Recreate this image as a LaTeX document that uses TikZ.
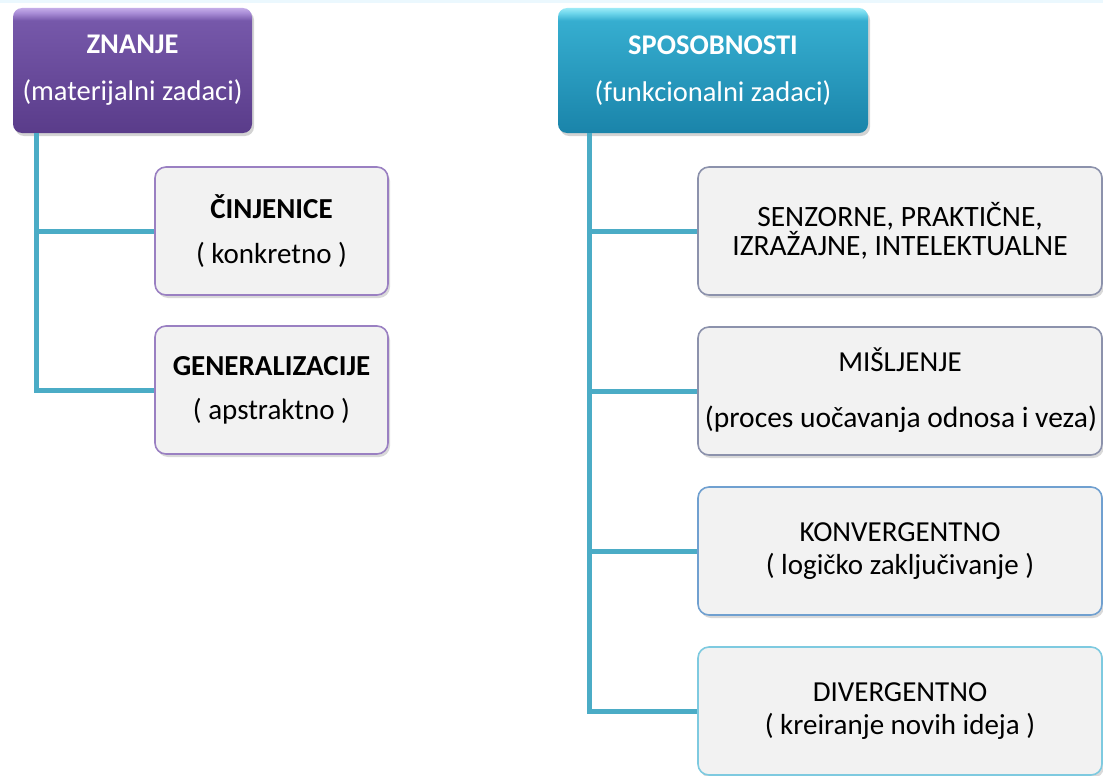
\documentclass[tikz,border=0pt]{standalone}
\usepackage{fontspec}
\setmainfont{Carlito}
\usetikzlibrary{shadows}
\definecolor{linkblue}{HTML}{4BACC6}
\definecolor{boxfill}{HTML}{F2F2F2}
\pgfdeclareverticalshading{purplegloss}{100bp}{color(0bp)=(violet!60!black);
    color(25bp)=({rgb,255:red,90;green,60;blue,138});
    color(70bp)=({rgb,255:red,118;green,88;blue,170});
    color(73bp)=({rgb,255:red,168;green,140;blue,214});
    color(75bp)=({rgb,255:red,196;green,172;blue,232});
    color(100bp)=({rgb,255:red,196;green,172;blue,232})}
\pgfdeclareverticalshading{tealgloss}{100bp}{color(0bp)=(cyan!50!black);
    color(25bp)=({rgb,255:red,26;green,132;blue,170});
    color(70bp)=({rgb,255:red,54;green,174;blue,208});
    color(73bp)=({rgb,255:red,110;green,214;blue,236});
    color(75bp)=({rgb,255:red,156;green,234;blue,246});
    color(100bp)=({rgb,255:red,156;green,234;blue,246})}
\begin{document}
\begin{tikzpicture}[x=1pt,y=-1pt,
    headbox/.style={rounded corners=9pt, text=white, align=center,
        minimum height=125pt, inner sep=0pt,
        font=\fontsize{28.5}{47}\selectfont,
        drop shadow={shadow xshift=2pt, shadow yshift=-3pt, opacity=0.35}},
    itembox/.style={draw, line width=1.6pt, rounded corners=11pt, fill=boxfill,
        align=center, minimum height=128pt, inner sep=0pt,
        font=\fontsize{29}{33}\selectfont,
        drop shadow={shadow xshift=2pt, shadow yshift=-3pt, opacity=0.3}},
    conn/.style={linkblue, line width=5pt},
    txt/.style={inner sep=0pt}]
    \useasboundingbox (0,0) rectangle (1103,776);
    % faint band along the top edge
    \fill[cyan!8] (0,0) rectangle (1103,3);
    % top boxes
    \node[headbox, minimum width=239pt, shading=purplegloss]
        (znanje) at (132.5,70.5) {\textbf{ZNANJE}\\(materijalni zadaci)};
    \node[headbox, minimum width=310pt, shading=tealgloss]
        (sposob) at (713,70.5) {\textbf{SPOSOBNOSTI}\\(funkcionalni zadaci)};
    % left column
    \node[itembox, draw={rgb,255:red,154;green,128;blue,194}, minimum width=233pt,
        font=\fontsize{29}{45}\selectfont]
        (cinj) at (271.5,231) {\textbf{ČINJENICE}\\( konkretno )};
    \node[itembox, draw={rgb,255:red,154;green,128;blue,194}, minimum width=233pt,
        font=\fontsize{29}{44}\selectfont]
        (gener) at (271.5,390) {\textbf{GENERALIZACIJE}\\( apstraktno )};
    % right column
    \node[itembox, draw={rgb,255:red,140;green,146;blue,172}, minimum width=404pt,
        font=\fontsize{29.5}{29}\selectfont]
        (senz) at (900,231) {SENZORNE, PRAKTIČNE,\\IZRAŽAJNE, INTELEKTUALNE};
    \node[itembox, draw={rgb,255:red,140;green,146;blue,172}, minimum width=404pt]
        (misl) at (900,391) {};
    \node[txt, font=\fontsize{29}{33}\selectfont] (mislA) at ([yshift=31pt]misl.center) {MIŠLJENJE};
    \node[txt, font=\fontsize{29.5}{33}\selectfont] (mislB) at ([xshift=1pt,yshift=-28pt]misl.center) {(proces uočavanja odnosa i veza)};
    \node[itembox, draw={rgb,255:red,112;green,160;blue,208}, minimum width=404pt]
        (konv) at (900,551) {KONVERGENTNO\\( logičko zaključivanje )};
    \node[itembox, draw={rgb,255:red,126;green,202;blue,224}, minimum width=404pt]
        (div) at (900,711) {DIVERGENTNO\\( kreiranje novih ideja )};
    % connectors
    \draw[conn] ([xshift=24pt]znanje.south west) |- (cinj.west);
    \draw[conn] ([xshift=24pt]znanje.south west) |- (gener.west);
    \draw[conn] ([xshift=32pt]sposob.south west) |- (senz.west);
    \draw[conn] ([xshift=32pt]sposob.south west) |- (misl.west);
    \draw[conn] ([xshift=32pt]sposob.south west) |- (konv.west);
    \draw[conn] ([xshift=32pt]sposob.south west) |- (div.west);
\end{tikzpicture}
\end{document}
